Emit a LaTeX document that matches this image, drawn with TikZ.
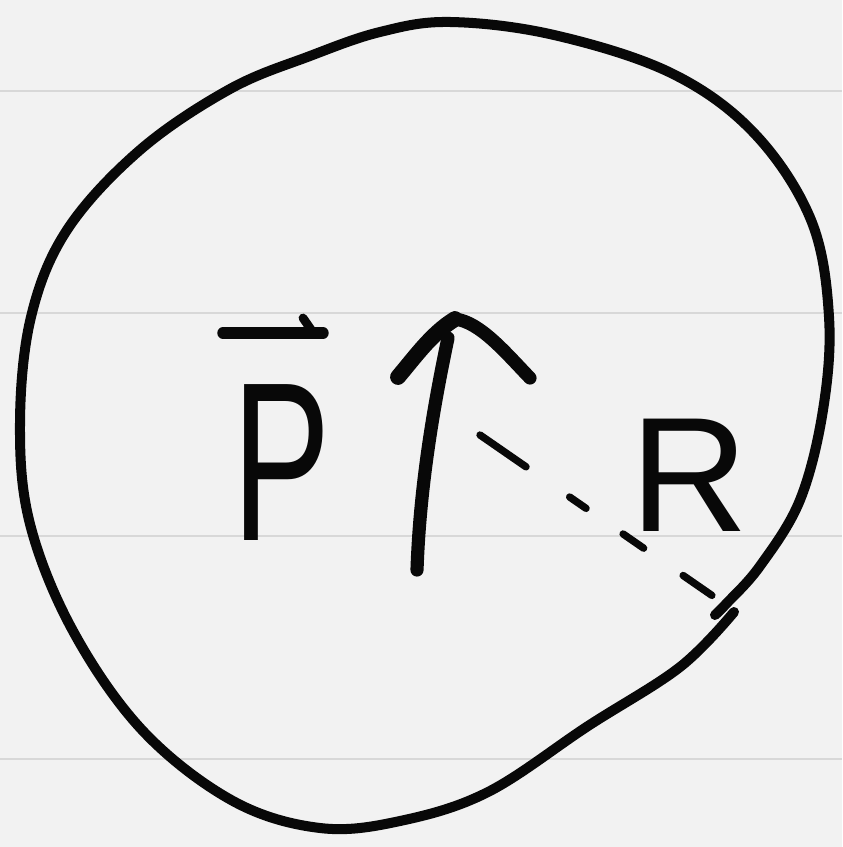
\documentclass[tikz,border=0pt]{standalone}
\usepackage{fontspec}
\setmainfont{Liberation Sans}
\usetikzlibrary{calc}
\definecolor{paper}{RGB}{242,242,242}
\definecolor{ruling}{RGB}{216,216,216}
\definecolor{ink}{RGB}{8,8,8}
\begin{document}
\begin{tikzpicture}[x=0.02cm,y=-0.02cm,
  inkline/.style={draw=ink,line cap=round,line join=round},
  rimline/.style={inkline,line width=5.7pt},
  penline/.style={inkline,line width=7.5pt},
  dashline/.style={inkline,line width=4.2pt,
    dash pattern=on 1.12cm off 1.06cm on 0.4cm off 0.9cm on 0.5cm off 0.96cm on 0.7cm off 1cm},
  rulingline/.style={draw=ruling,line width=1.6pt},
  letter/.style={inner sep=0pt,text=ink}]
\fill[paper] (0,0) rectangle (842,847);
\useasboundingbox (0,0) rectangle (842,847);
\foreach \yy in {91,313,536,759} \draw[rulingline] (0,\yy) -- (842,\yy);
% circle (one hand-drawn stroke, ends meeting near the radius)
\draw[rimline] plot[smooth,tension=0.6] coordinates {
 (734,612) (680,667) (588,726) (488,792) (400,821) (320,828) (233,801)
 (143,731) (73,631) (30,524) (20,424) (31,317) (67,230) (140,150)
 (230,89) (310,56) (380,32) (450,22) (554,35) (671,73) (754,133) (811,220)
 (829,317) (823,410) (800,500) (760,566) (726,604) (715,615)};
% P with vector bar
\node[letter,anchor=base west,font=\fontsize{129}{129}\selectfont] (P) at (232,540) {\scalebox{0.65}[1]{P}};
\coordinate (barL) at (223,333);
\coordinate (barR) at (323,333);
\draw[penline,line width=6.5pt] (barL) -- (barR);
\draw[penline,line width=5pt] (303,318) -- (312,331);
% R
\node[letter,anchor=base west,font=\fontsize{93}{93}\selectfont] (R) at (630,531) {R};
% arrow
\coordinate (arrBot) at (417,570);
\coordinate (arrTop) at (448,338);
\draw[penline] (arrBot) .. controls (420,480) and (436,395) .. (arrTop);
\coordinate (tipL) at (398,377);
\coordinate (tipP) at (455,319);
\coordinate (tipR) at (530,378);
\draw[penline,line width=9pt] (tipL) .. controls (415,357) and (432,333) .. (tipP);
\draw[penline] (tipP) .. controls (480,322) and (505,352) .. (tipR);
% radius
\coordinate (rStart) at (480,435);
\coordinate (rEnd) at (733,610);
\draw[dashline] (rStart) -- (rEnd);
\end{tikzpicture}
\end{document}
